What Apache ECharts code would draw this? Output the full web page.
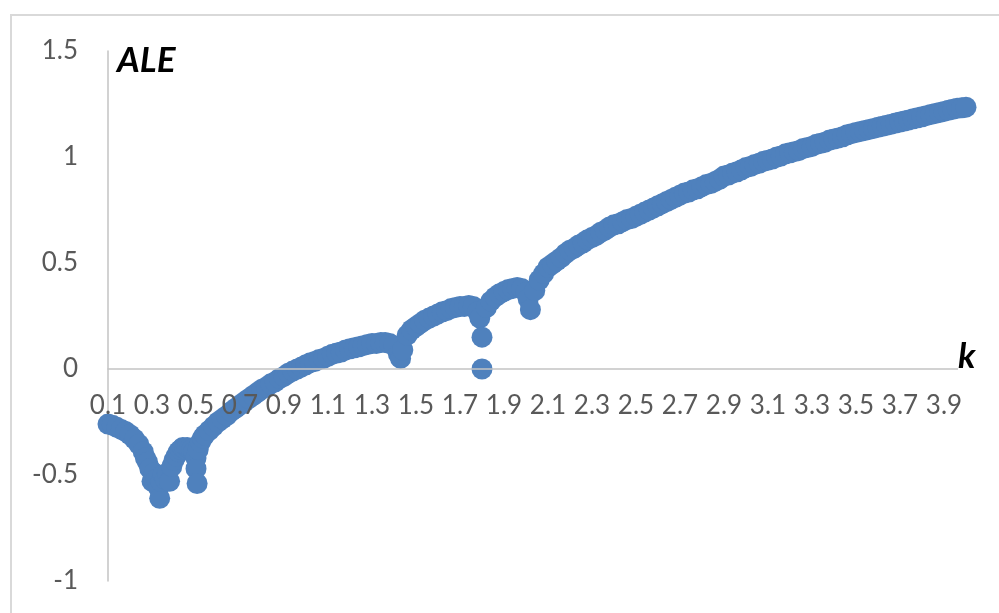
<!DOCTYPE html>
<html>
<head>
<meta charset="utf-8">
<script src="https://cdn.jsdelivr.net/npm/echarts@6/dist/echarts.min.js"></script>
<style>
  html, body { margin: 0; padding: 0; background: #ffffff; }
  #chart { width: 999px; height: 613px; }
</style>
</head>
<body>
<div id="chart"></div>
<script>
// Largest Lyapunov exponent (ALE) against the parameter k
const kValues = [
  0.10, 0.12, 0.14, 0.16, 0.18, 0.20, 0.22, 0.24, 0.26, 0.27,
  0.28, 0.29, 0.30, 0.31, 0.32, 0.33, 0.335, 0.34, 0.35, 0.36,
  0.37, 0.38, 0.39, 0.40, 0.41, 0.42, 0.43, 0.44, 0.45, 0.46,
  0.47, 0.48, 0.49, 0.50, 0.50, 0.505, 0.51, 0.52, 0.53, 0.54,
  0.56, 0.58, 0.60, 0.62, 0.64, 0.66, 0.68, 0.70, 0.72, 0.74,
  0.76, 0.78, 0.80, 0.82, 0.84, 0.86, 0.88, 0.90, 0.92, 0.94,
  0.96, 0.98, 1.00, 1.02, 1.04, 1.06, 1.08, 1.10, 1.12, 1.14,
  1.16, 1.18, 1.20, 1.22, 1.24, 1.26, 1.28, 1.30, 1.32, 1.34,
  1.36, 1.38, 1.40, 1.42, 1.43, 1.44, 1.46, 1.48, 1.50, 1.52,
  1.54, 1.56, 1.58, 1.60, 1.62, 1.64, 1.66, 1.68, 1.70, 1.72,
  1.74, 1.76, 1.78, 1.79, 1.80, 1.80, 1.82, 1.84, 1.86, 1.88,
  1.90, 1.92, 1.94, 1.96, 1.98, 2.00, 2.01, 2.02, 2.04, 2.06,
  2.08, 2.10, 2.12, 2.14, 2.16, 2.18, 2.20, 2.22, 2.24, 2.26,
  2.28, 2.30, 2.32, 2.34, 2.36, 2.38, 2.40, 2.42, 2.44, 2.46,
  2.48, 2.50, 2.52, 2.54, 2.56, 2.58, 2.60, 2.62, 2.64, 2.66,
  2.68, 2.70, 2.72, 2.74, 2.76, 2.78, 2.80, 2.82, 2.84, 2.86,
  2.88, 2.90, 2.92, 2.94, 2.96, 2.98, 3.00, 3.02, 3.04, 3.06,
  3.08, 3.10, 3.12, 3.14, 3.16, 3.18, 3.20, 3.22, 3.24, 3.26,
  3.28, 3.30, 3.32, 3.34, 3.36, 3.38, 3.40, 3.42, 3.44, 3.46,
  3.48, 3.50, 3.52, 3.54, 3.56, 3.58, 3.60, 3.62, 3.64, 3.66,
  3.68, 3.70, 3.72, 3.74, 3.76, 3.78, 3.80, 3.82, 3.84, 3.86,
  3.88, 3.90, 3.92, 3.94, 3.96, 3.98, 4.00
];

const aleValues = [
  -0.26, -0.265, -0.275, -0.285, -0.295, -0.31, -0.33, -0.355, -0.39, -0.42,
  -0.44, -0.47, -0.53, -0.49, -0.52, -0.56, -0.61, -0.53, -0.50, -0.52,
  -0.49, -0.53, -0.46, -0.43, -0.41, -0.39, -0.38, -0.37, -0.375, -0.37,
  -0.375, -0.38, -0.39, -0.42, -0.47, -0.54, -0.38, -0.345, -0.325, -0.31,
  -0.29, -0.27, -0.25, -0.235, -0.22, -0.20, -0.185, -0.17, -0.155, -0.14,
  -0.125, -0.11, -0.095, -0.085, -0.07, -0.06, -0.045, -0.035, -0.02, -0.01,
  0.0, 0.01, 0.02, 0.03, 0.035, 0.045, 0.05, 0.06, 0.07, 0.075,
  0.08, 0.09, 0.095, 0.10, 0.105, 0.11, 0.115, 0.12, 0.12, 0.125,
  0.125, 0.12, 0.11, 0.07, 0.05, 0.09, 0.16, 0.185, 0.20, 0.215,
  0.23, 0.24, 0.25, 0.26, 0.27, 0.275, 0.285, 0.29, 0.295, 0.295,
  0.30, 0.295, 0.27, 0.24, 0.15, 0.0, 0.29, 0.32, 0.34, 0.355,
  0.365, 0.375, 0.38, 0.385, 0.38, 0.36, 0.33, 0.28, 0.37, 0.42,
  0.45, 0.48, 0.495, 0.51, 0.525, 0.545, 0.56, 0.57, 0.585, 0.595,
  0.61, 0.62, 0.63, 0.645, 0.655, 0.67, 0.68, 0.685, 0.695, 0.705,
  0.71, 0.72, 0.73, 0.74, 0.75, 0.76, 0.77, 0.78, 0.79, 0.80,
  0.81, 0.82, 0.83, 0.835, 0.845, 0.85, 0.86, 0.87, 0.875, 0.885,
  0.895, 0.91, 0.915, 0.925, 0.93, 0.94, 0.95, 0.955, 0.965, 0.97,
  0.98, 0.985, 0.99, 1.00, 1.005, 1.015, 1.02, 1.025, 1.03, 1.04,
  1.045, 1.05, 1.06, 1.065, 1.07, 1.08, 1.085, 1.09, 1.095, 1.105,
  1.11, 1.115, 1.12, 1.125, 1.13, 1.135, 1.14, 1.145, 1.15, 1.155,
  1.16, 1.165, 1.17, 1.175, 1.18, 1.185, 1.19, 1.195, 1.20, 1.205,
  1.21, 1.215, 1.22, 1.225, 1.23, 1.232, 1.235
];

// Axis settings
const xMin = 0.1, xMax = 4.0, xStep = 0.1;
const yMin = -1, yMax = 1.5, yStep = 0.5;
const xTitle = 'k';
const yTitle = 'ALE';

const points = kValues.map((k, i) => [k, aleValues[i]]);

const labelFont = 'Lato, "Liberation Sans", sans-serif';
const axisGray = '#c3c3c3';

const gridTop = 51, gridBottom = 32;
const plotHeight = 613 - gridTop - gridBottom;
// the k axis crosses the ALE axis at 0: shift it up from the bottom of the plot
const zeroOffset = -plotHeight * (0 - yMin) / (yMax - yMin);

const chart = echarts.init(document.getElementById('chart'), null, { renderer: 'canvas' });

chart.setOption({
  animation: false,
  backgroundColor: '#ffffff',
  grid: {
    left: 108, right: 33, top: gridTop, bottom: gridBottom,
    containLabel: false,
    outerBoundsMode: 'none'
  },
  xAxis: {
    type: 'value',
    position: 'bottom',
    offset: zeroOffset,
    min: xMin,
    max: xMax,
    interval: xStep,
    z: 5,
    axisLine: { show: true, onZero: false, lineStyle: { color: axisGray, width: 1.5 } },
    axisTick: { show: false },
    splitLine: { show: false },
    axisLabel: {
      margin: 24,
      fontSize: 26,
      fontFamily: labelFont,
      color: '#595959',
      showMinLabel: true,
      showMaxLabel: true,
      hideOverlap: false,
      formatter: function (v) {
        const t = Math.round(v * 10);
        return t % 2 === 1 ? (t / 10).toFixed(1) : '';
      }
    }
  },
  yAxis: {
    type: 'value',
    min: yMin,
    max: yMax,
    interval: yStep,
    axisLine: { show: true, onZero: false, lineStyle: { color: axisGray, width: 1.5 } },
    axisTick: { show: false },
    splitLine: { show: false },
    axisLabel: {
      margin: 30,
      fontSize: 26,
      fontFamily: labelFont,
      color: '#595959'
    }
  },
  graphic: [
    {
      type: 'rect',
      silent: true,
      shape: { x: 11, y: 15, width: 1010, height: 640 },
      style: { fill: 'none', stroke: '#d9d9d9', lineWidth: 2 },
      z: -10
    },
    {
      type: 'text',
      left: 117,
      top: 43,
      style: {
        text: yTitle,
        font: 'italic bold 35px ' + labelFont,
        fill: '#000000'
      },
      z: 100
    },
    {
      type: 'text',
      left: 958,
      top: 339,
      style: {
        text: xTitle,
        font: 'italic bold 35px ' + labelFont,
        fill: '#000000',
        backgroundColor: '#ffffff'
      },
      z: 100
    }
  ],
  series: [
    {
      type: 'scatter',
      data: points,
      symbol: 'circle',
      symbolSize: 21,
      clip: false,
      z: 2,
      itemStyle: { color: '#4F81BD', opacity: 1 }
    }
  ]
});
</script>
</body>
</html>
